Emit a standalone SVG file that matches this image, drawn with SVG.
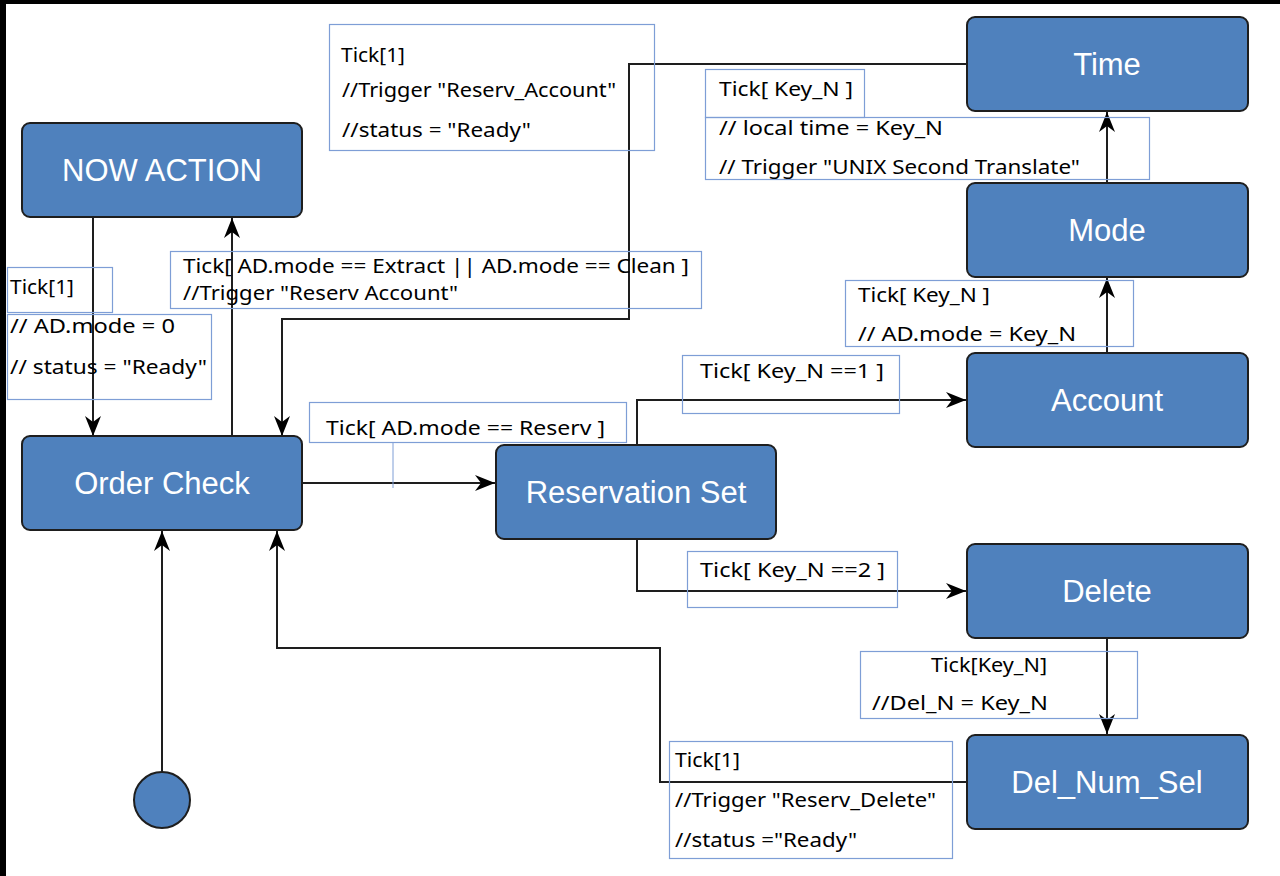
<svg xmlns="http://www.w3.org/2000/svg" width="1280" height="876" viewBox="0 0 1280 876">
<style>
.node{fill:#4F81BD;stroke:#1E1E1E;stroke-width:2}
.nt{font-family:"Liberation Sans",Arial,sans-serif;font-size:31px;fill:#FFFFFF;text-anchor:middle}
.edge{fill:none;stroke:#1E1E1E;stroke-width:2}
.lb{fill:none;stroke:#7E9ED6;stroke-width:1.2}
.lt{font-family:"Noto Sans","Open Sans",sans-serif;font-size:20px;fill:#000000}
</style>
<defs>
<marker id="arr" markerUnits="userSpaceOnUse" markerWidth="22" markerHeight="18" refX="20" refY="9" orient="auto">
<path d="M0,1 L20,9 L0,17 L6,9 z" fill="#000"/>
</marker>
</defs>
<rect x="0" y="0" width="1280" height="876" fill="#FFFFFF"/>
<rect x="0" y="0" width="1280" height="4" fill="#000"/>
<rect x="0" y="0" width="6" height="876" fill="#000"/>

<g id="connectors">
<path class="edge" d="M162,772 V531" marker-end="url(#arr)"/>
<path class="edge" d="M967,782 H660 V648 H277 V531" marker-end="url(#arr)"/>
<path class="edge" d="M93,217 V436" marker-end="url(#arr)"/>
<path class="edge" d="M232,436 V218" marker-end="url(#arr)"/>
<path class="edge" d="M967,64 H629 V319 H282 V436" marker-end="url(#arr)"/>
<path class="edge" d="M302,483 H495" marker-end="url(#arr)"/>
<path class="edge" d="M637,445 V400 H966" marker-end="url(#arr)"/>
<path class="edge" d="M637,539 V591 H966" marker-end="url(#arr)"/>
<path class="edge" d="M1107,353 V278" marker-end="url(#arr)"/>
<path class="edge" d="M1107,183 V112" marker-end="url(#arr)"/>
<path class="edge" d="M1107,638 V734" marker-end="url(#arr)"/>
</g>

<g id="node-now-action"><rect class="node" x="22" y="123" width="280" height="94" rx="8"/><text class="nt" x="162" y="181">NOW ACTION</text></g>
<g id="node-order-check"><rect class="node" x="22" y="436" width="280" height="94" rx="8"/><text class="nt" x="162" y="494">Order Check</text></g>
<g id="node-reservation-set"><rect class="node" x="496" y="445" width="280" height="94" rx="8"/><text class="nt" x="636" y="503">Reservation Set</text></g>
<g id="node-time"><rect class="node" x="967" y="17" width="281" height="94" rx="8"/><text class="nt" x="1107" y="75">Time</text></g>
<g id="node-mode"><rect class="node" x="967" y="183" width="281" height="94" rx="8"/><text class="nt" x="1107" y="241">Mode</text></g>
<g id="node-account"><rect class="node" x="967" y="353" width="281" height="94" rx="8"/><text class="nt" x="1107" y="411">Account</text></g>
<g id="node-delete"><rect class="node" x="967" y="544" width="281" height="94" rx="8"/><text class="nt" x="1107" y="602">Delete</text></g>
<g id="node-del-num-sel"><rect class="node" x="967" y="735" width="281" height="94" rx="8"/><text class="nt" x="1107" y="793">Del_Num_Sel</text></g>
<g id="node-initial"><circle cx="162" cy="800" r="28" fill="#4F81BD" stroke="#1E1E1E" stroke-width="2"/></g>

<g id="labels">
<g id="label-time-order">
<rect class="lb" x="329.5" y="24.5" width="325" height="126"/>
<text class="lt" x="341" y="62" textLength="64" lengthAdjust="spacingAndGlyphs">Tick[1]</text>
<text class="lt" x="342" y="97" textLength="274" lengthAdjust="spacingAndGlyphs">//Trigger "Reserv_Account"</text>
<text class="lt" x="342" y="137" textLength="189" lengthAdjust="spacingAndGlyphs">//status = "Ready"</text>
</g>
<g id="label-mode-time">
<rect class="lb" x="705.5" y="69.5" width="159" height="48"/>
<rect class="lb" x="705.5" y="117.5" width="444" height="62"/>
<text class="lt" x="719" y="96" textLength="134" lengthAdjust="spacingAndGlyphs">Tick[ Key_N ]</text>
<text class="lt" x="719" y="135" textLength="224" lengthAdjust="spacingAndGlyphs">// local time = Key_N</text>
<text class="lt" x="719" y="174" textLength="361" lengthAdjust="spacingAndGlyphs">// Trigger "UNIX Second Translate"</text>
</g>
<g id="label-now-order">
<rect class="lb" x="7.5" y="267.5" width="105" height="45"/>
<rect class="lb" x="7.5" y="314.5" width="204" height="85"/>
<text class="lt" x="10" y="294" textLength="64" lengthAdjust="spacingAndGlyphs">Tick[1]</text>
<text class="lt" x="10" y="333" textLength="165" lengthAdjust="spacingAndGlyphs">// AD.mode = 0</text>
<text class="lt" x="10" y="374" textLength="197" lengthAdjust="spacingAndGlyphs">// status = "Ready"</text>
</g>
<g id="label-order-now">
<rect class="lb" x="170.5" y="251.5" width="531" height="57"/>
<text class="lt" x="183" y="273" textLength="506" lengthAdjust="spacingAndGlyphs">Tick[ AD.mode == Extract || AD.mode == Clean ]</text>
<text class="lt" x="183" y="300" textLength="275" lengthAdjust="spacingAndGlyphs">//Trigger "Reserv Account"</text>
</g>
<g id="label-order-reservation">
<rect class="lb" x="309.5" y="402.5" width="317" height="40"/>
<line x1="393" y1="443" x2="393" y2="488" stroke="#7E9ED6" stroke-width="1"/>
<text class="lt" x="326" y="435" textLength="279" lengthAdjust="spacingAndGlyphs">Tick[ AD.mode == Reserv ]</text>
</g>
<g id="label-account-mode">
<rect class="lb" x="845.5" y="280.5" width="288" height="66"/>
<text class="lt" x="858" y="302" textLength="132" lengthAdjust="spacingAndGlyphs">Tick[ Key_N ]</text>
<text class="lt" x="858" y="341" textLength="218" lengthAdjust="spacingAndGlyphs">// AD.mode = Key_N</text>
</g>
<g id="label-reservation-account">
<rect class="lb" x="682.5" y="355.5" width="217" height="58"/>
<text class="lt" x="700" y="378" textLength="184" lengthAdjust="spacingAndGlyphs">Tick[ Key_N ==1 ]</text>
</g>
<g id="label-reservation-delete">
<rect class="lb" x="687.5" y="551.5" width="210" height="56"/>
<text class="lt" x="700" y="577" textLength="185" lengthAdjust="spacingAndGlyphs">Tick[ Key_N ==2 ]</text>
</g>
<g id="label-delete-delnum">
<rect class="lb" x="860.5" y="651.5" width="277" height="67"/>
<text class="lt" x="931" y="672" textLength="116" lengthAdjust="spacingAndGlyphs">Tick[Key_N]</text>
<text class="lt" x="872" y="710" textLength="176" lengthAdjust="spacingAndGlyphs">//Del_N = Key_N</text>
</g>
<g id="label-delnum-order">
<rect class="lb" x="669.5" y="741.5" width="283" height="117"/>
<text class="lt" x="675" y="767" textLength="65" lengthAdjust="spacingAndGlyphs">Tick[1]</text>
<text class="lt" x="675" y="807" textLength="261" lengthAdjust="spacingAndGlyphs">//Trigger "Reserv_Delete"</text>
<text class="lt" x="675" y="847" textLength="182" lengthAdjust="spacingAndGlyphs">//status ="Ready"</text>
</g>
</g>
</svg>
